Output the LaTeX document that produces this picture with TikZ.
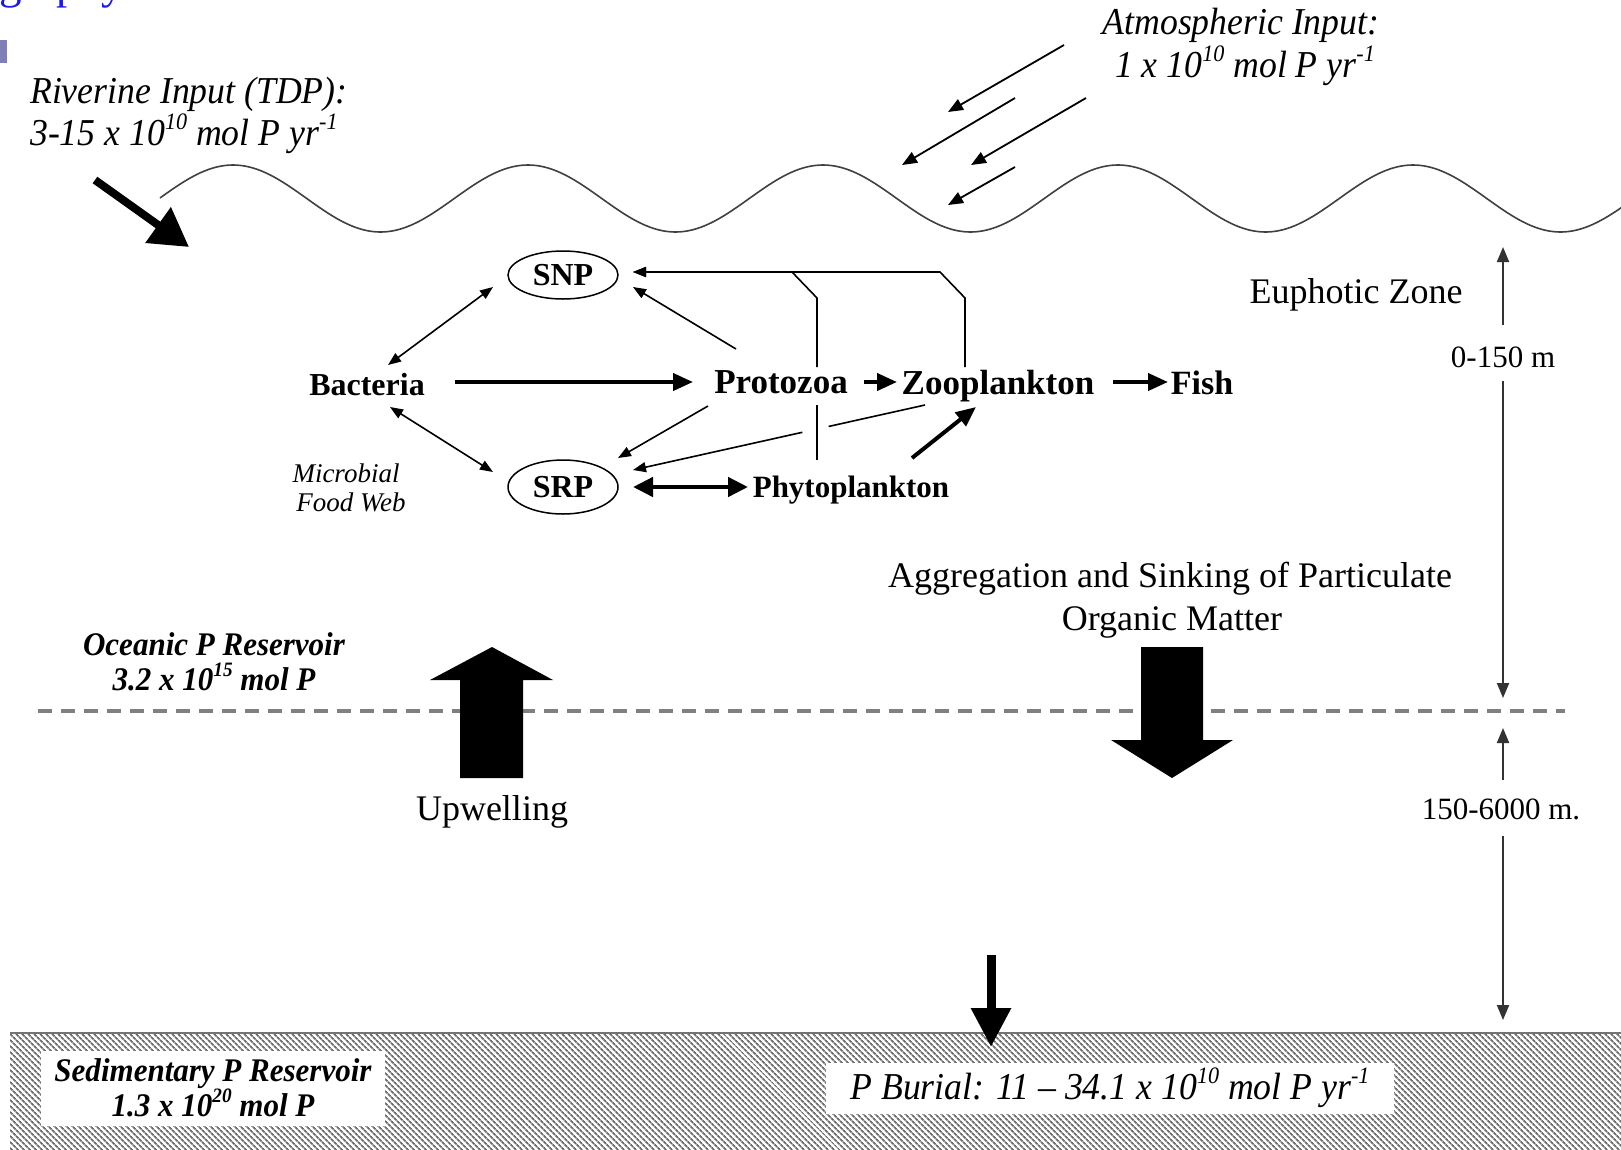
\documentclass[tikz,border=0pt]{standalone}
\usepackage{fontspec}
\setmainfont{Liberation Serif}
\newfontfamily\itcond[FakeStretch=0.94,Ligatures=TeX]{Liberation Serif}
\usepackage{graphicx}
\usetikzlibrary{arrows.meta,calc,patterns.meta,shapes.geometric}
\definecolor{titleblue}{RGB}{25,25,235}
\definecolor{bulletc}{RGB}{128,128,184}
\definecolor{hatchc}{RGB}{110,110,110}
\newcommand{\szf}[1]{\fontsize{#1}{#1}\selectfont}
\newcommand{\supx}[1]{\raisebox{0.42em}{\scalebox{0.62}{#1}}}
\begin{document}
\begin{tikzpicture}[x=1pt,y=-1pt,
  lbl/.style={inner sep=0pt, anchor=base},
  ital/.style={lbl, font=\itcond\itshape\szf{38}},
  boldital/.style={lbl, font=\itcond\bfseries\itshape\szf{33}},
  plainlbl/.style={lbl, font=\szf{36}},
  org/.style={lbl, font=\bfseries\szf{#1}},
  pool/.style={ellipse, draw, line width=1.5pt, minimum width=110pt, inner sep=0pt, font=\bfseries\szf{32}},
  thinline/.style={line width=1.6pt},
  tarr/.style={thinline, -{Triangle[length=13pt,width=10pt]}},
  tdbl/.style={thinline, {Triangle[length=13pt,width=10pt]}-{Triangle[length=13pt,width=10pt]}},
  tk/.style={line width=4pt, -{Triangle[length=20pt,width=17pt]}},
  tkdbl/.style={line width=4.5pt, {Triangle[length=20pt,width=19pt]}-{Triangle[length=20pt,width=19pt]}},
  atm/.style={line width=1.8pt, -{Triangle[length=15pt,width=12pt]}},
  depth/.style={line width=2pt, black!80, -{Triangle[length=15pt,width=12pt]}},
  blockarrow/.style={fill=black}
]
\useasboundingbox (0,0) rectangle (1621,1149);
\fill[white] (0,0) rectangle (1621,1149);

% slide remnants
\begin{scope}
  \clip (0,0) rectangle (400,14);
  \node[lbl, anchor=base west, text=titleblue, font=\szf{45}] (title) at (-1,-2) {graphy};
\end{scope}
\fill[bulletc] (0,40) rectangle (7,63);

% riverine input
\node[ital, anchor=base west] (riv1) at (30,103) {Riverine Input (TDP):};
\node[ital, anchor=base west] (riv2) at (30,145) {3-15 x 10\supx{10} mol P yr\supx{-1}};
\coordinate (rivA) at (95,180);
\coordinate (rivB) at (189,247);
\draw[line width=8pt, -{Triangle[length=38pt,width=42pt]}] (rivA) -- (rivB);

% sea surface
\draw[line width=1.6pt, black!75] plot[domain=160:1630, samples=400, smooth] (\x, {198.5-33.5*cos(1.220339*(\x-233))});

% atmospheric input
\node[ital] (atm1) at (1241,34) {Atmospheric Input:};
\node[ital] (atm2) at (1245,77) {1 x 10\supx{10} mol P yr\supx{-1}};
\coordinate (a1s) at (1064,45);  \coordinate (a1e) at (948,112);
\coordinate (a2s) at (1015,98);  \coordinate (a2e) at (902,165);
\coordinate (a3s) at (1086,98);  \coordinate (a3e) at (971,165);
\coordinate (a4s) at (1015,167); \coordinate (a4e) at (948,205);
\draw[atm] (a1s) -- (a1e);
\draw[atm] (a2s) -- (a2e);
\draw[atm] (a3s) -- (a3e);
\draw[atm] (a4s) -- (a4e);

% food web nodes
\node[pool, minimum height=48pt] (SNP) at (563,275) {SNP};
\node[pool, minimum height=54pt] (SRP) at (563,487) {SRP};
\node[org=32] (Bact) at (367,395) {Bacteria};
\node[org=35] (Proto) at (781,393) {Protozoa};
\node[org=35] (Zoo) at (998,394) {Zooplankton};
\node[org=34] (Fish) at (1202,394) {Fish};
\node[org=31] (Phyto) at (851,497) {Phytoplankton};
\node[lbl, font=\itshape\szf{27}] (mfw1) at (346,482) {Microbial};
\node[lbl, font=\itshape\szf{27}] (mfw2) at (351,511) {Food Web};

% food web connectors
\draw[tdbl] ($(Bact.base)+(21,-30)$) -- ($(SNP.center)+(-70,12)$);
\draw[tdbl] ($(Bact.base)+(23,12)$) -- ($(SRP.center)+(-70,-15)$);
\draw[tk] ($(Bact.base)+(88,-13)$) -- ($(Proto.base)+(-88,-11)$);
\draw[tarr] ($(Proto.base)+(-45,-44)$) -- ($(SNP.center)+(70,12)$);
\draw[tarr] ($(Proto.base)+(-73,13)$) -- ($(SRP.center)+(55,-29)$);
\coordinate (zsA) at ($(Zoo.base)+(-73,11)$);
\coordinate (zsB) at ($(SRP.center)+(70,-17)$);
\draw[thinline] (zsA) -- ($(zsA)!0.33!(zsB)$);
\draw[tarr] ($(zsA)!0.42!(zsB)$) -- (zsB);
\draw[tarr] ($(Zoo.base)+(-33,-27)$) -- ++(0,-69) -- ++(-25,-26) -- ($(SNP.center)+(70,-3)$);
\draw[thinline] ($(Phyto.base)+(-34,-37)$) -- ++(0,-55);
\draw[tarr] ($(Proto.base)+(36,-26)$) -- ++(0,-69) -- ++(-25,-26) -- ($(SNP.center)+(70,-3)$);
\draw[tk] ($(Proto.base)+(83,-11)$) -- ($(Zoo.base)+(-101,-12)$);
\draw[tk] ($(Zoo.base)+(115,-12)$) -- ($(Fish.base)+(-34,-12)$);
\draw[tk] ($(Phyto.base)+(61,-39)$) -- ($(Zoo.base)+(-22,13)$);
\draw[tkdbl] ($(SRP.center)+(70,0)$) -- ($(Phyto.base)+(-103,-10)$);

% depth scale
\node[plainlbl] (euph) at (1356,303) {Euphotic Zone};
\node[lbl, font=\szf{31}] (d150) at (1503,367) {0-150 m};
\node[lbl, font=\szf{31}] (d6000) at (1501,819) {150-6000 m.};
\coordinate (ezTop) at (1503,247);
\coordinate (ezBot) at (1503,698);
\coordinate (dpTop) at (1503,728);
\coordinate (dpBot) at (1503,1020);
\draw[depth, shorten <=21pt] (d150.north) -- (ezTop);
\draw[depth, shorten <=13pt] (d150.south) -- (ezBot);
\draw[depth, shorten <=18pt] (d6000.north -| dpTop) -- (dpTop);
\draw[depth, shorten <=16pt] (d6000.south -| dpTop) -- (dpBot);

% mixed layer boundary
\draw[line width=4pt, black!50, dash pattern=on 14pt off 9pt] (38,711) -- (1565,711);

% reservoirs and fluxes
\node[boldital] (ocean1) at (214,655) {Oceanic P Reservoir};
\node[boldital] (ocean2) at (214,690) {3.2 x 10\supx{15} mol P};
\fill[blockarrow] (460,778) -- (460,680) -- (430,680) -- (492,647) -- (553,680) -- (523,680) -- (523,778) -- cycle;
\node[plainlbl] (upw) at (492,820) {Upwelling};
\node[plainlbl] (agg1) at (1170,587) {Aggregation and Sinking of Particulate};
\node[plainlbl] (agg2) at (1172,630) {Organic Matter};
\fill[blockarrow] (1141,647) -- (1203,647) -- (1203,740) -- (1233,740) -- (1172,778) -- (1111,740) -- (1141,740) -- cycle;

% sediment
\fill[white] (10,1033) rectangle (1621,1149);
\fill[pattern={Lines[angle=-45,distance=4pt,line width=1.9pt]}, pattern color=hatchc] (10,1033) rectangle (1621,1149);
\draw[line width=2pt, black!55] (10,1033) -- (1621,1033);
\node[fill=white, inner sep=0pt, minimum width=344pt, minimum height=75pt, align=center,
      font=\itcond\bfseries\itshape\fontsize{33}{35}\selectfont] (sed) at (213,1088) {Sedimentary P Reservoir\\1.3 x 10\supx{20} mol P};
\node[fill=white, inner sep=0pt, minimum width=568pt, minimum height=51pt,
      font=\itcond\itshape\szf{38}] (burial) at (1110,1088) {P Burial: 11 \textendash{} 34.1 x 10\supx{10} mol P yr\supx{-1}};
\coordinate (burA) at (991,955);
\coordinate (burB) at (991,1047);
\draw[line width=9pt, -{Triangle[length=39pt,width=38pt]}] (burA) -- (burB);
\end{tikzpicture}
\end{document}
